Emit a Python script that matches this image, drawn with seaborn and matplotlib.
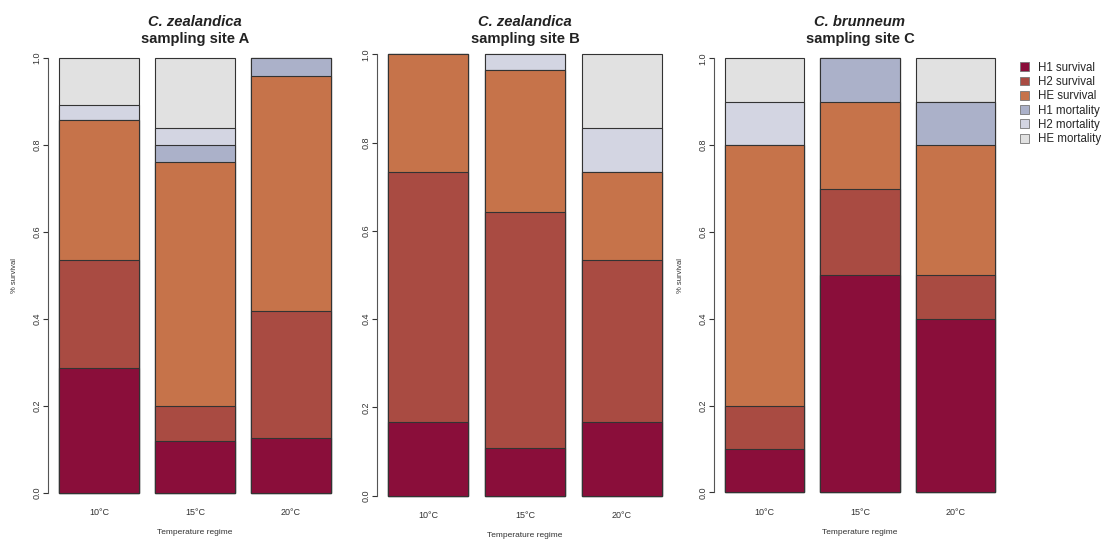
import pandas as pd
import matplotlib
matplotlib.use("Agg")
import matplotlib.pyplot as plt
from matplotlib.patches import Patch
import seaborn as sns

sns.set_style("ticks")
plt.rcParams['font.family'] = ['Liberation Sans', 'DejaVu Sans']

temps = ["10°C", "15°C", "20°C"]
categories = ["H1 survival", "H2 survival", "HE survival",
              "H1 mortality", "H2 mortality", "HE mortality"]
colors = ["#8a0e3a", "#a94b42", "#c6734a", "#abb1c9", "#d3d5e2", "#e1e1e1"]

# proportions per category (rows) and temperature (columns)
site_a = [[0.286, 0.120, 0.125],
          [0.250, 0.080, 0.292],
          [0.321, 0.560, 0.541],
          [0.000, 0.040, 0.042],
          [0.036, 0.040, 0.000],
          [0.107, 0.160, 0.000]]
site_b = [[0.167, 0.107, 0.167],
          [0.566, 0.536, 0.366],
          [0.267, 0.321, 0.200],
          [0.000, 0.000, 0.000],
          [0.000, 0.036, 0.100],
          [0.000, 0.000, 0.167]]
site_c = [[0.1, 0.5, 0.4],
          [0.1, 0.2, 0.1],
          [0.6, 0.2, 0.3],
          [0.0, 0.1, 0.1],
          [0.1, 0.0, 0.0],
          [0.1, 0.0, 0.1]]

species = ["C. zealandica", "C. zealandica", "C. brunneum"]
sites = ["sampling site A", "sampling site B", "sampling site C"]


def make_df(values):
    rows = []
    for cat, vals in zip(categories, values):
        for t, v in zip(temps, vals):
            rows.append({"Temp": t, "Category": cat, "Value": v})
    df = pd.DataFrame(rows)
    df["Category"] = pd.Categorical(df["Category"], categories, ordered=True)
    df = df.sort_values(["Temp", "Category"])
    df["Cum"] = df.groupby("Temp")["Value"].cumsum()
    return df


# axes boxes in pixels: left, right, y of 0, y of 1 (from top)
boxes = [(48.1, 341.9, 492.7, 58.0),
         (376.7, 673.4, 495.7, 54.3),
         (714.2, 1005.8, 492.3, 58.3)]
W, H = 1104, 540

fig = plt.figure(figsize=(11.04, 5.4), dpi=100)

for i, values in enumerate([site_a, site_b, site_c]):
    l, r, y0, y1 = boxes[i]
    ax = fig.add_axes([l / W, (H - y0) / H, (r - l) / W, (y0 - y1) / H])
    df = make_df(values)
    # draw stacked bars from the top segment down
    for cat, col in reversed(list(zip(categories, colors))):
        sub = df[df["Category"] == cat]
        sns.barplot(data=sub, x="Temp", y="Cum", order=temps, color=col,
                    saturation=1, width=1 / 1.2, edgecolor="#333333",
                    linewidth=0.8, ax=ax)
    for p in ax.patches:
        p.set_clip_on(False)
    ax.set_xlim(-0.53, 2.53)
    ax.set_ylim(0, 1)
    ax.set_yticks([0, 0.2, 0.4, 0.6, 0.8, 1.0])
    ax.set_yticklabels(["0.0", "0.2", "0.4", "0.6", "0.8", "1.0"],
                       rotation=90, va="center")
    ax.tick_params(axis="y", length=3.6, width=0.8, pad=1, labelsize=6.5,
                   colors="#333333")
    ax.tick_params(axis="x", length=0, pad=11, labelsize=6.5,
                   labelcolor="#333333")
    for s in ["top", "right", "bottom"]:
        ax.spines[s].set_visible(False)
    ax.spines["left"].set_color("#555555")
    ax.spines["left"].set_linewidth(0.8)
    ax.set_xlabel("Temperature regime", fontsize=6, color="#333333",
                  labelpad=9)
    if i == 1:
        ax.set_ylabel("")
    else:
        ax.set_ylabel("% survival", fontsize=5.5, color="#333333")
        ax.yaxis.set_label_coords(-30 / (r - l), 0.5)
    cx = (l + r) / 2 / W
    fig.text(cx, 1 - 22 / H, species[i], ha="center", va="center",
             fontsize=10.6, fontweight="bold", fontstyle="italic", color="#222222")
    fig.text(cx, 1 - 39.5 / H, sites[i], ha="center", va="center",
             fontsize=10.6, fontweight="bold", color="#222222")

handles = [Patch(facecolor=c, edgecolor="#777777", linewidth=0.6, label=n)
           for c, n in zip(colors, categories)]
fig.legend(handles=handles, loc="upper left", bbox_to_anchor=(1015 / W, 1 - 57 / H),
           frameon=False, fontsize=8.3, handlelength=0.8, handleheight=0.8,
           handletextpad=0.8, labelspacing=0.2, borderaxespad=0)

fig.savefig("out.png", dpi=100)
